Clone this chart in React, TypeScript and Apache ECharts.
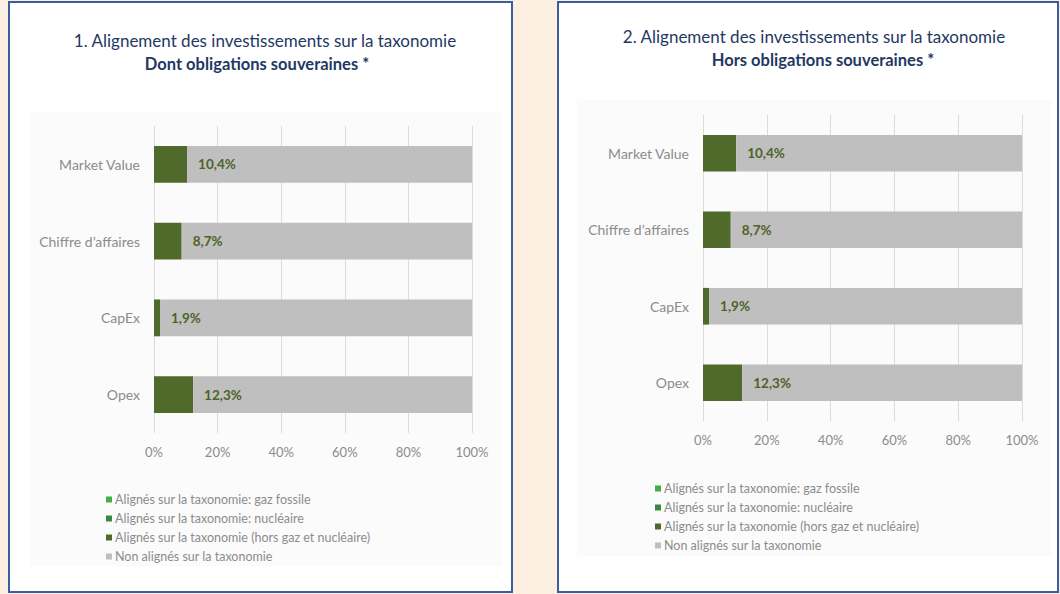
import React, { useEffect, useRef } from "react";
import * as echarts from "echarts";

const categories = ["Market Value", "Chiffre d’affaires", "CapEx", "Opex"];
const seriesNames = [
  "Alignés sur la taxonomie: gaz fossile",
  "Alignés sur la taxonomie: nucléaire",
  "Alignés sur la taxonomie (hors gaz et nucléaire)",
  "Non alignés sur la taxonomie",
];
const seriesColors = ["#45AD45", "#358A3C", "#4F6A2B", "#BFBFBF"];

// Chart 1 : dont obligations souveraines
const gazFossile1 = [0, 0, 0, 0];
const nucleaire1 = [0, 0, 0, 0];
const alignesHorsGaz1 = [10.4, 8.7, 1.9, 12.3];
const nonAlignes1 = [89.6, 91.3, 98.1, 87.7];

// Chart 2 : hors obligations souveraines
const gazFossile2 = [0, 0, 0, 0];
const nucleaire2 = [0, 0, 0, 0];
const alignesHorsGaz2 = [10.4, 8.7, 1.9, 12.3];
const nonAlignes2 = [89.6, 91.3, 98.1, 87.7];

const xTicks = [0, 20, 40, 60, 80, 100];

const title1 = "1. Alignement des investissements sur la taxonomie";
const subtitle1 = "Dont obligations souveraines *";
const title2 = "2. Alignement des investissements sur la taxonomie";
const subtitle2 = "Hors obligations souveraines *";

const FONT = "Lato, 'Open Sans', sans-serif";

const fmt = (v: number) => v.toFixed(1).replace(".", ",") + "%";

function makeSeries(gridIdx: number, values: number[][], aligned: number[]) {
  return values.map((data, i) => ({
    name: seriesNames[i],
    type: "bar",
    stack: "s" + gridIdx,
    xAxisIndex: gridIdx,
    yAxisIndex: gridIdx,
    data,
    barCategoryGap: "52%",
    itemStyle: { color: seriesColors[i] },
    label:
      i === 3
        ? {
            show: true,
            position: "insideLeft",
            distance: 11,
            formatter: (p: any) => fmt(aligned[p.dataIndex]),
            color: "#4F6228",
            fontFamily: FONT,
            fontWeight: "bold",
            fontSize: 13.5,
          }
        : { show: false },
    emphasis: { disabled: true },
  }));
}

function makeXAxis(gridIdx: number) {
  return {
    type: "value",
    gridIndex: gridIdx,
    min: xTicks[0],
    max: xTicks[xTicks.length - 1],
    interval: xTicks[1] - xTicks[0],
    axisLine: { show: false },
    axisTick: { show: false },
    splitLine: { show: true, lineStyle: { color: "#DCDCDC", width: 1 } },
    axisLabel: {
      formatter: "{value}%",
      color: "#8C8C8C",
      fontFamily: FONT,
      fontSize: 13,
      margin: 12,
    },
  };
}

function makeYAxis(gridIdx: number) {
  return {
    type: "category",
    gridIndex: gridIdx,
    data: categories,
    inverse: true,
    axisLine: { show: false },
    axisTick: { show: false },
    splitLine: { show: false },
    axisLabel: {
      color: "#8C8C8C",
      fontFamily: FONT,
      fontSize: 14,
      margin: 14,
    },
  };
}

function makeLegend(left: number, top: number) {
  return {
    orient: "vertical",
    left,
    top,
    padding: 0,
    itemWidth: 6,
    itemHeight: 6,
    itemGap: 6,
    icon: "rect",
    data: seriesNames,
    selectedMode: false,
    textStyle: {
      color: "#8C8C8C",
      fontFamily: FONT,
      fontSize: 12.5,
      lineHeight: 13,
      padding: [0, 0, 0, -2],
    },
  };
}

export default function App() {
  const ref = useRef<HTMLDivElement>(null);

  useEffect(() => {
    if (!ref.current) return;
    const chart = echarts.init(ref.current, null, { renderer: "svg" });
    const border = "#3C5E9E";
    const titleColor = "#1F3864";
    chart.setOption({
      animation: false,
      backgroundColor: "#FDEFE2",
      graphic: [
        {
          type: "rect",
          z: 0,
          shape: { x: 9, y: 2, width: 503, height: 590 },
          style: { fill: "#FFFFFF", stroke: border, lineWidth: 2 },
        },
        {
          type: "rect",
          z: 0,
          shape: { x: 558, y: 2, width: 500, height: 590 },
          style: { fill: "#FFFFFF", stroke: border, lineWidth: 2 },
        },
        {
          type: "rect",
          z: 0,
          shape: { x: 30, y: 112, width: 472, height: 454 },
          style: { fill: "#FBFBFB" },
        },
        {
          type: "rect",
          z: 0,
          shape: { x: 577, y: 100, width: 474, height: 456 },
          style: { fill: "#FBFBFB" },
        },
        {
          type: "text",
          z: 1,
          style: {
            text: title1,
            x: 265,
            y: 40,
            textAlign: "center",
            textVerticalAlign: "middle",
            fill: titleColor,
            font: `17px ${FONT}`,
          },
        },
        {
          type: "text",
          z: 1,
          style: {
            text: subtitle1,
            x: 257,
            y: 64,
            textAlign: "center",
            textVerticalAlign: "middle",
            fill: titleColor,
            font: `bold 16.5px ${FONT}`,
          },
        },
        {
          type: "text",
          z: 1,
          style: {
            text: title2,
            x: 814,
            y: 36,
            textAlign: "center",
            textVerticalAlign: "middle",
            fill: titleColor,
            font: `17px ${FONT}`,
          },
        },
        {
          type: "text",
          z: 1,
          style: {
            text: subtitle2,
            x: 823,
            y: 60,
            textAlign: "center",
            textVerticalAlign: "middle",
            fill: titleColor,
            font: `bold 16.5px ${FONT}`,
          },
        },
      ],
      legend: [makeLegend(106, 493), makeLegend(655, 482)],
      grid: [
        { left: 154, top: 126, width: 318, height: 307 },
        { left: 703, top: 115, width: 319, height: 306 },
      ],
      xAxis: [makeXAxis(0), makeXAxis(1)],
      yAxis: [makeYAxis(0), makeYAxis(1)],
      series: [
        ...makeSeries(0, [gazFossile1, nucleaire1, alignesHorsGaz1, nonAlignes1], alignesHorsGaz1),
        ...makeSeries(1, [gazFossile2, nucleaire2, alignesHorsGaz2, nonAlignes2], alignesHorsGaz2),
      ],
    });
    return () => chart.dispose();
  }, []);

  return (
    <div
      ref={ref}
      style={{ position: "fixed", left: 0, top: 0, width: 1060, height: 594 }}
    />
  );
}
